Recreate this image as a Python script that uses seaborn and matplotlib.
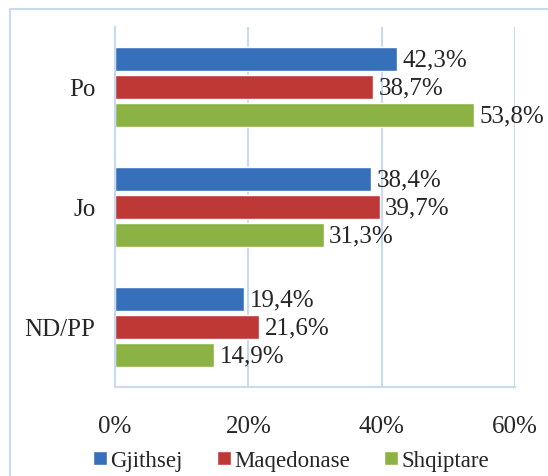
import numpy as np
import pandas as pd
import matplotlib
matplotlib.use('Agg')
import matplotlib.pyplot as plt
import seaborn as sns
from matplotlib.patches import Rectangle

# Data
categories = ['Po', 'Jo', 'ND/PP']
series = ['Gjithsej', 'Maqedonase', 'Shqiptare']
gjithsej = [42.3, 38.4, 19.4]
maqedonase = [38.7, 39.7, 21.6]
shqiptare = [53.8, 31.3, 14.9]
colors = ['#3670BA', '#BE3936', '#8CB244']
xticks = [0, 20, 40, 60]

df = pd.DataFrame({
    'cat': categories * 3,
    'grp': [s for s in series for _ in categories],
    'val': gjithsej + maqedonase + shqiptare,
})

sns.set_style('white')
plt.rcParams['font.family'] = ['Liberation Serif', 'DejaVu Serif']
grid_col = '#C9DAF0'
fs = 18

fig = plt.figure(figsize=(5.48, 4.77), dpi=100)
ax = fig.add_axes([115 / 548, 1 - 388 / 477, 400 / 548, 360 / 477])

sns.barplot(data=df, y='cat', x='val', hue='grp', order=categories,
            hue_order=series, palette=colors, orient='h', width=0.7,
            gap=0.14, saturation=1, ax=ax, legend=True)

# value labels with comma decimal
for cont in ax.containers:
    labels = [f'{b.get_width():.1f}%'.replace('.', ',') for b in cont]
    ax.bar_label(cont, labels=labels, padding=4, fontsize=fs)

ax.set_xlim(0, 60)
ax.set_ylim(2.5, -0.5)
ax.set_xticks(xticks)
ax.set_xticklabels([f'{t}%' for t in xticks], fontsize=fs)
ax.set_yticks([0, 1, 2])
ax.set_yticklabels(categories, fontsize=fs)
ax.set_xlabel('')
ax.set_ylabel('')

# gridlines & spines
for t in xticks[1:]:
    ax.axvline(t, color=grid_col, lw=1.5, zorder=0)
for s in ['top', 'right']:
    ax.spines[s].set_visible(False)
for s in ['left', 'bottom']:
    ax.spines[s].set_color(grid_col)
    ax.spines[s].set_linewidth(1.5)

ax.tick_params(axis='y', length=0, pad=14)
ax.tick_params(axis='x', length=4, width=1.5, color=grid_col, pad=16, direction='out')
# minor ticks on y at category boundaries
ax.set_yticks([-0.5, 0.5, 1.5, 2.5], minor=True)
ax.tick_params(axis='y', which='minor', length=4, width=1.5, color=grid_col)

ax.legend(loc='center', bbox_to_anchor=(0.44, -0.205), ncol=3, frameon=False,
          fontsize=16.5, handlelength=0.6, handleheight=0.6, handletextpad=0.15,
          columnspacing=1.5, borderaxespad=0, borderpad=0)

# outer chart frame
fig.patches.append(Rectangle((10 / 548, -0.1), 1.2, 1 - 10 / 477 + 0.1,
                             transform=fig.transFigure, fill=False,
                             edgecolor=grid_col, lw=1.5))

fig.savefig('out.png', dpi=100)
